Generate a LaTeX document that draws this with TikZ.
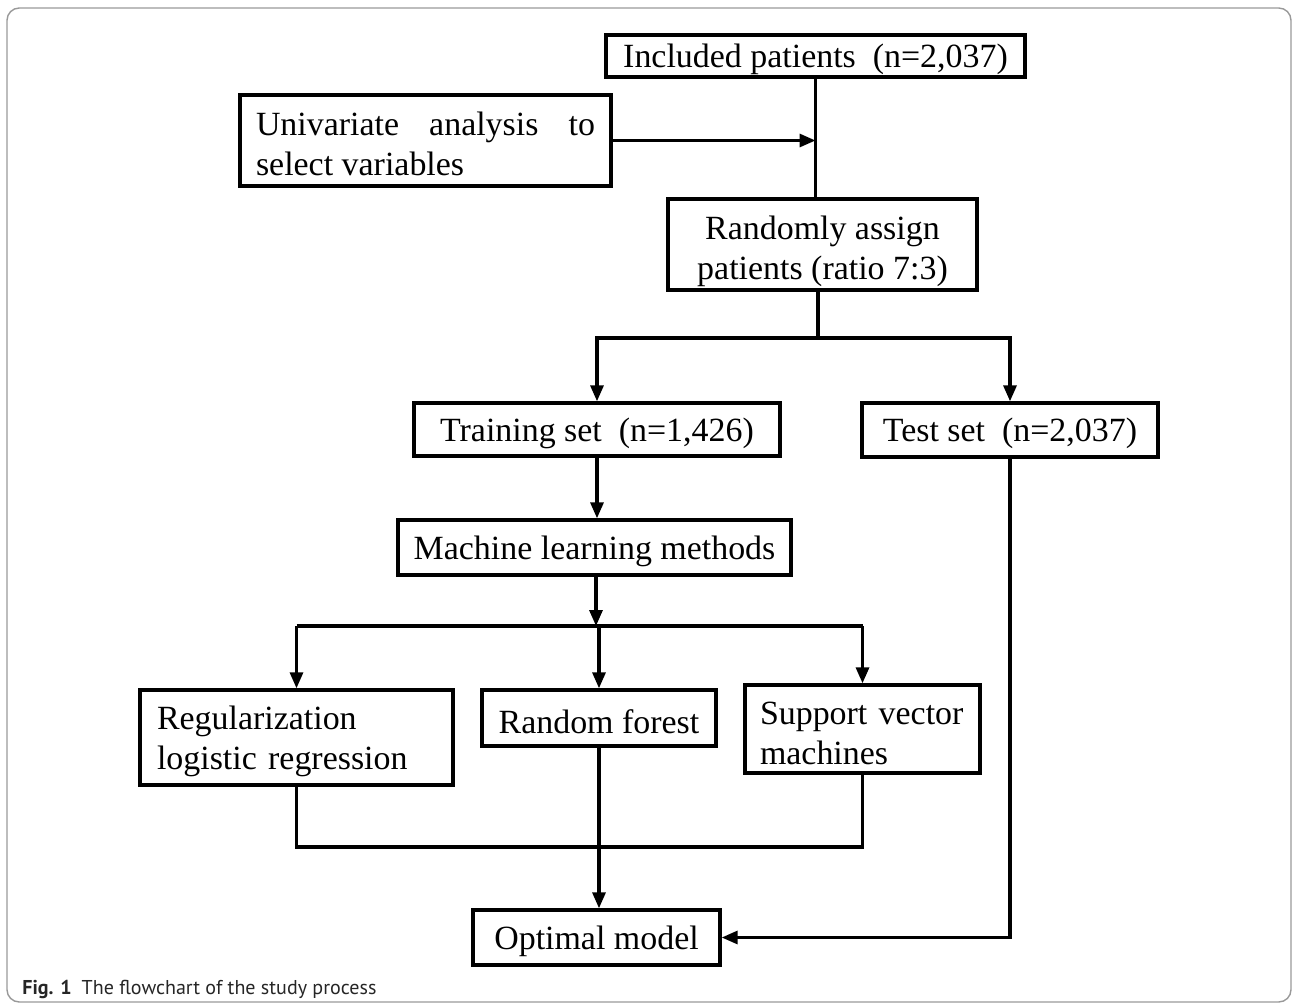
\documentclass[tikz,border=0pt]{standalone}
\usepackage{fontspec}
\setmainfont{Liberation Serif}
\newfontfamily\capfont{PT Sans}
\usetikzlibrary{arrows.meta}
\usetikzlibrary{positioning}

\begin{document}
\begin{tikzpicture}[
    box/.style={draw, line width=1.9pt, inner sep=0pt, align=center,
                font=\fontsize{19.3}{22.8}\selectfont,
                execute at begin node={\rule{0pt}{17.5pt}}},
    leftbox/.style={box, inner xsep=0.3cm, align=left},
    >={Triangle[length=3.2mm, width=2.6mm]}
]
\useasboundingbox (0,0) rectangle (25.84,-20.16);

% --- Outer frame ---
\draw[gray!80, line width=0.8pt, rounded corners=7pt] (0.14,-0.16) rectangle (25.82,-20.04);

% --- Boxes ---
\node[box, minimum width=8.38cm, minimum height=0.84cm] (incl) at (16.31,-1.12) {Included patients~ (n=2,037)};
\node[box, inner xsep=0.32cm, text width=6.78cm, align=justify, minimum height=1.82cm] (univ) at (8.51,-2.81)
    {\hyphenpenalty=10000 Univariate analysis to\linebreak select variables};
\node[box, minimum width=6.18cm, minimum height=1.82cm] (rand) at (16.45,-4.89)
    {\rule{0pt}{21pt}Randomly assign\\patients (ratio 7:3)};
\node[box, minimum width=7.32cm, minimum height=1.06cm] (train) at (11.94,-8.59) {Training set~ (n=1,426)};
\node[box, minimum width=5.92cm, minimum height=1.08cm] (test) at (20.2,-8.6) {Test set~ (n=2,037)};
\node[box, minimum width=7.86cm, minimum height=1.10cm] (ml) at (11.89,-10.95) {Machine learning methods};
\node[leftbox, inner xsep=0.34cm, text width=5.58cm, minimum height=1.90cm] (reg) at (5.93,-14.75) {Regularization\\logistic regression};
\node[box, minimum width=4.68cm, minimum height=1.12cm] (rf) at (11.98,-14.36) {Random forest};
\node[leftbox, inner xsep=0.3cm, text width=4.1cm, minimum height=1.76cm] (svm) at (17.25,-14.58) {Support vector\\machines};
\node[box, minimum width=4.94cm, minimum height=1.10cm] (opt) at (11.93,-18.75) {Optimal model};

% --- Junction points ---
\coordinate (split) at (16.36,-6.76);
\coordinate (bar) at (11.92,-12.52);
\coordinate (merge) at (11.94,-16.94);

% --- Connectors ---
\begin{scope}[line width=1.8pt]
\draw (incl.south) -- (incl.south |- rand.north);
\draw[->] (univ.east) -- (univ.east -| incl.south);
\draw (rand.south -| split) -- (split);
\draw[->] (split) -| (train.north);
\draw[->] (split) -| (test.north);
\draw[->] (train.south) -- (train.south |- ml.north);
\draw[->] (ml.south -| bar) -- (bar);
\draw (reg.north |- bar) -- (svm.north |- bar);
\foreach \n in {reg,rf,svm}
    \draw[->] (\n.north |- bar) -- (\n.north);
\draw (reg.south) -- (reg.south |- merge) -- (svm.south |- merge) -- (svm.south);
\draw[->] (rf.south) -- (rf.south |- opt.north);
\draw[->] (test.south) |- (opt.east);
\end{scope}

% --- Caption ---
\node[anchor=base west, inner sep=0pt, font=\capfont\fontsize{11.4}{13}\selectfont, text=black!85] (cap) at (0.44,-19.88)
    {\textbf{Fig. 1}\hspace{0.5em}The flowchart of the study process};

\end{tikzpicture}
\end{document}
